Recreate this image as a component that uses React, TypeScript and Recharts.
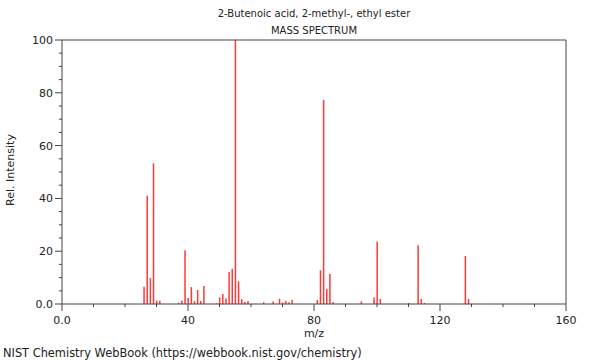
import React from "react";
import { ComposedChart, Bar, XAxis, YAxis, ReferenceLine } from "recharts";

// peaks
const mz = [
  26, 27, 28, 29, 30, 31, 37, 38, 39, 40, 41, 42, 43, 44, 45, 49, 50, 51, 52,
  53, 54, 55, 56, 57, 58, 59, 64, 67, 69, 70, 71, 72, 73, 81, 82, 83, 84, 85,
  86, 95, 99, 100, 101, 110, 113, 114, 115, 128, 129,
];
const intensity = [
  6.5, 41, 9.8, 53.3, 1.3, 1.2, 0.5, 1.2, 20.4, 2.3, 6.4, 1.1, 5.3, 1.1, 6.8,
  0.3, 2.5, 3.8, 2.1, 12.1, 13.3, 100, 8.6, 1.8, 0.8, 1.1, 0.7, 0.9, 2.0, 0.6,
  1.1, 0.7, 1.5, 1.5, 12.8, 77.3, 5.7, 11.4, 0.8, 1.0, 2.5, 23.6, 1.9, 0.4,
  22.3, 1.9, 0.4, 18.2, 1.9,
];
const xTicks = [0, 10, 20, 30, 40, 50, 60, 70, 80, 90, 100, 110, 120, 130, 140, 150, 160];
const yTicks = [0, 5, 10, 15, 20, 25, 30, 35, 40, 45, 50, 55, 60, 65, 70, 75, 80, 85, 90, 95, 100];

const title = "2-Butenoic acid, 2-methyl-, ethyl ester";
const subtitle = "MASS SPECTRUM";
const footer = "NIST Chemistry WebBook (https://webbook.nist.gov/chemistry)";

const data = mz.map((m, i) => ({ mz: m, rel: intensity[i] }));

const FONT = "DejaVu Sans, sans-serif";
const AXIS = "#444";
const TEXT = "#222";

const XTick = (props: any) => {
  const { x, y, payload } = props;
  const v = payload.value;
  const major = v % 40 === 0;
  return (
    <g>
      <line x1={x} x2={x} y1={y} y2={y + (major ? 7 : 3)} stroke={AXIS} />
      {major && (
        <text x={x} y={y + 20} textAnchor="middle" fontSize={11} fill={TEXT} fontFamily={FONT}>
          {v === 0 ? "0.0" : v}
        </text>
      )}
    </g>
  );
};

const YTick = (props: any) => {
  const { x, y, payload } = props;
  const v = payload.value;
  const major = v % 20 === 0;
  return (
    <g>
      <line x1={x - (major ? 7 : 3)} x2={x} y1={y} y2={y} stroke={AXIS} />
      {major && (
        <text x={x - 9} y={y + 4} textAnchor="end" fontSize={11} fill={TEXT} fontFamily={FONT}>
          {v === 0 ? "0.0" : v}
        </text>
      )}
    </g>
  );
};

export default function App() {
  return (
    <div style={{ position: "absolute", left: 0, top: 0, width: 600, height: 360, background: "#fff" }}>
      <ComposedChart
        width={600}
        height={360}
        data={data}
        margin={{ top: 40, right: 34, bottom: 26, left: 2 }}
      >
        <XAxis
          dataKey="mz"
          type="number"
          domain={[0, 160]}
          ticks={xTicks}
          interval={0}
          tickSize={0}
          tickMargin={0}
          tickLine={false}
          tick={<XTick />}
          stroke={AXIS}
          height={30}
        />
        <YAxis
          type="number"
          domain={[0, 100]}
          ticks={yTicks}
          interval={0}
          tickSize={0}
          tickMargin={0}
          tickLine={false}
          tick={<YTick />}
          stroke={AXIS}
          width={60}
        />
        <ReferenceLine y={100} stroke={AXIS} />
        <ReferenceLine x={160} stroke={AXIS} />
        <Bar dataKey="rel" fill="#ff3838" barSize={1.5} isAnimationActive={false} />
      </ComposedChart>
      <svg
        width={600}
        height={360}
        style={{ position: "absolute", left: 0, top: 0, pointerEvents: "none" }}
        fontFamily={FONT}
        fill={TEXT}
      >
        <text x={314} y={17} textAnchor="middle" fontSize={10}>{title}</text>
        <text x={314} y={34} textAnchor="middle" fontSize={10}>{subtitle}</text>
        <text x={314} y={337} textAnchor="middle" fontSize={11}>m/z</text>
        <text x={14} y={170} textAnchor="middle" fontSize={11} transform="rotate(-90 14 170)">
          Rel. Intensity
        </text>
        <text x={3} y={357} fontSize={11.4}>{footer}</text>
      </svg>
    </div>
  );
}
